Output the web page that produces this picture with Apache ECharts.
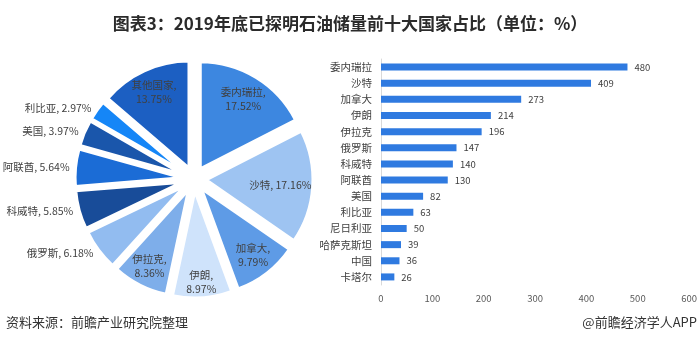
<!DOCTYPE html>
<html>
<head>
<meta charset="utf-8">
<script src="https://cdn.jsdelivr.net/npm/echarts@6/dist/echarts.min.js"></script>
<style>
  html, body { margin: 0; padding: 0; background: #fff; }
  #chart { width: 700px; height: 344px; }
</style>
</head>
<body>
<div id="chart"></div>
<script>
// Share of proven oil reserves, end of 2019 (%)
const pieNames = ['委内瑞拉', '沙特', '加拿大', '伊朗', '伊拉克', '俄罗斯', '科威特', '阿联酋', '美国', '利比亚', '其他国家'];
const pieShares = [17.52, 17.16, 9.79, 8.97, 8.36, 6.18, 5.85, 5.64, 3.97, 2.97, 13.75];
const pieColors = ['#3d87e0', '#9ec4f2', '#5e9be6', '#cfe3fb', '#7eaeea', '#92bcf0', '#184c99', '#1b6cd6', '#1a56ab', '#1586f7', '#1c5fc2'];
// slices labelled inside the pie; the rest get labels outside on the left
const insideLabelled = ['委内瑞拉', '沙特', '加拿大', '伊朗', '伊拉克', '其他国家'];
const oneLineLabels = ['沙特'];

// Proven reserves by country (bar chart)
const barCategories = ['委内瑞拉', '沙特', '加拿大', '伊朗', '伊拉克', '俄罗斯', '科威特', '阿联酋', '美国', '利比亚', '尼日利亚', '哈萨克斯坦', '中国', '卡塔尔'];
const barValues = [480, 409, 273, 214, 196, 147, 140, 130, 82, 63, 50, 39, 36, 26];
const xTicks = { min: 0, max: 600, interval: 100 };

const FONT = '"Noto Sans CJK SC", "Noto Sans", sans-serif';
const PIE_CENTER = [194, 179];
const PIE_R = 107;
const EXPLODE = 12;
const LABEL_PAD = 4;
const RING = [58, 104];   // label ring: default inside labels sit at its mid radius

const shareTotal = pieShares.reduce((a, b) => a + b, 0);
// clockwise angle (from 12 o'clock) of each slice's bisector
const midAngles = pieShares.map((v, i) => {
  const before = pieShares.slice(0, i).reduce((a, b) => a + b, 0);
  return (before + v / 2) / shareTotal * Math.PI * 2;
});

const pieData = pieNames.map((n, i) => ({
  name: n,
  value: pieShares[i],
  selected: true,
  itemStyle: { color: pieColors[i] },
  label: { show: !insideLabelled.includes(n) }
}));

const labelRing = pieNames.map((n, i) => ({
  name: n,
  value: pieShares[i],
  selected: true,
  label: { show: insideLabelled.includes(n) }
}));

const fmtShare = v => v.toFixed(2) + '%';

// "inside end" placement: slide each label along its bisector until the
// label box sits just inside the exploded slice's arc
function insideEnd(params) {
  const a = midAngles[params.dataIndex];
  const ux = Math.sin(a), uy = -Math.cos(a);
  const w = params.labelRect.width, h = params.labelRect.height;
  const extent = Math.abs(ux) * w / 2 + Math.abs(uy) * h / 2;
  const target = PIE_R + EXPLODE - LABEL_PAD - extent;
  const current = (RING[0] + RING[1]) / 2 + EXPLODE;
  return { dx: ux * (target - current), dy: uy * (target - current) };
}

const chart = echarts.init(document.getElementById('chart'), null, { renderer: 'canvas' });
chart.setOption({
  backgroundColor: '#ffffff',
  animation: false,
  textStyle: { fontFamily: FONT },
  title: {
    text: '图表3：2019年底已探明石油储量前十大国家占比（单位：%）',
    left: 'center',
    top: 10,
    textStyle: { fontSize: 17, fontWeight: 'bold', color: '#2b2b2b', fontFamily: FONT }
  },
  graphic: [
    {
      type: 'text', left: 6, top: 316,
      style: { text: '资料来源：前瞻产业研究院整理', fontSize: 13, fill: '#333', fontFamily: FONT }
    },
    {
      type: 'text', right: 3, top: 316,
      style: { text: '@前瞻经济学人APP', fontSize: 13, fill: '#333', fontFamily: FONT }
    }
  ],
  grid: { left: 381, right: 8, top: 59, bottom: 59, containLabel: false },
  xAxis: {
    type: 'value',
    min: xTicks.min, max: xTicks.max, interval: xTicks.interval,
    axisLine: { show: false },
    axisTick: { show: false },
    splitLine: { show: false },
    axisLabel: { color: '#595959', fontSize: 9.5, margin: 9, fontFamily: FONT }
  },
  yAxis: {
    type: 'category',
    inverse: true,
    data: barCategories,
    axisLine: { show: true, lineStyle: { color: '#d9d9d9', width: 1 } },
    axisTick: { show: false },
    axisLabel: { color: '#404040', fontSize: 10.5, margin: 9, fontFamily: FONT }
  },
  series: [
    {
      type: 'bar',
      data: barValues,
      barWidth: 7,
      itemStyle: { color: '#2f7ae0' },
      label: {
        show: true, position: 'right', distance: 7,
        color: '#404040', fontSize: 9.5, fontFamily: FONT
      },
      silent: true
    },
    {
      type: 'pie',
      center: PIE_CENTER,
      radius: [0, PIE_R],
      startAngle: 90,
      clockwise: true,
      selectedMode: 'multiple',
      selectedOffset: EXPLODE,
      avoidLabelOverlap: false,
      silent: true,
      itemStyle: { borderColor: '#ffffff', borderWidth: 3 },
      label: {
        position: 'outside',
        color: '#404040',
        fontSize: 10.5,
        fontFamily: FONT,
        distanceToLabelLine: 2,
        formatter: p => p.name + ', ' + fmtShare(p.value)
      },
      labelLine: { show: false, length: 4, length2: 0 },
      data: pieData
    },
    {
      // transparent ring over the pie that carries the inside labels
      type: 'pie',
      center: PIE_CENTER,
      radius: RING,
      startAngle: 90,
      clockwise: true,
      selectedMode: 'multiple',
      selectedOffset: EXPLODE,
      silent: true,
      itemStyle: { color: 'rgba(0,0,0,0)', borderWidth: 0 },
      label: {
        position: 'inside',
        color: '#404040',
        fontSize: 10.5,
        lineHeight: 14,
        fontFamily: FONT,
        formatter: p => oneLineLabels.includes(p.name)
          ? p.name + ', ' + fmtShare(p.value)
          : p.name + ',\n' + fmtShare(p.value)
      },
      labelLine: { show: false },
      labelLayout: insideEnd,
      data: labelRing
    }
  ]
});
</script>
</body>
</html>
